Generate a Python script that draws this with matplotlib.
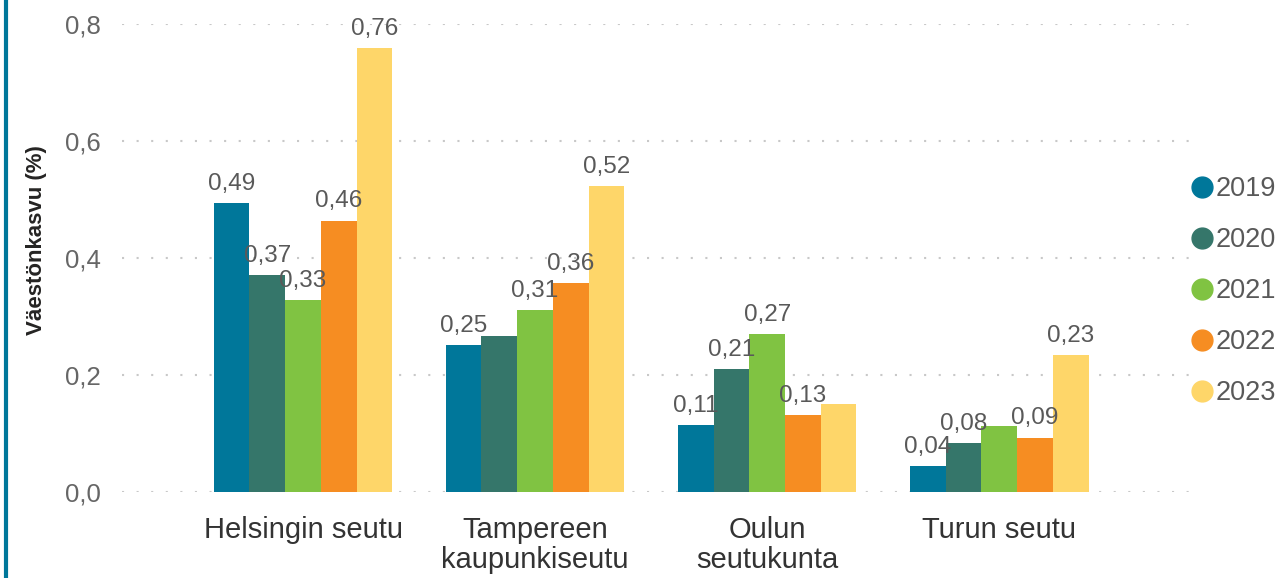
import matplotlib
matplotlib.use("Agg")
import matplotlib.pyplot as plt
from matplotlib.lines import Line2D
import numpy as np

matplotlib.rcParams.update({"font.family": ["Liberation Sans", "DejaVu Sans"]})

regions = ["Helsingin seutu", "Tampereen\nkaupunkiseutu", "Oulun\nseutukunta", "Turun seutu"]
years = ["2019", "2020", "2021", "2022", "2023"]
growth = {
    "2019": [0.494, 0.251, 0.114, 0.044],
    "2020": [0.371, 0.266, 0.210, 0.084],
    "2021": [0.328, 0.311, 0.270, 0.112],
    "2022": [0.464, 0.357, 0.131, 0.093],
    "2023": [0.759, 0.523, 0.150, 0.234],
}
# which data labels the original shows (others hidden to avoid overlap)
show_label = {
    "2019": [True, True, True, True],
    "2020": [True, False, True, True],
    "2021": [True, True, True, False],
    "2022": [True, True, True, True],
    "2023": [True, True, False, True],
}
colors = ["#00779A", "#35766A", "#80C342", "#F68D22", "#FED669"]

fig = plt.figure(figsize=(12.79, 5.78), dpi=100)
ax = fig.add_axes([0.0954, 0.1488, 0.8346, 0.8097])

x = np.arange(len(regions))
w = 0.154
for i, (yr, c) in enumerate(zip(years, colors)):
    pos = x + (i - 2) * w
    bars = ax.bar(pos, growth[yr], width=w, color=c, zorder=3, label=yr)
    for b, v, s in zip(bars, growth[yr], show_label[yr]):
        if s:
            ax.annotate(f"{v:.2f}".replace(".", ","), (b.get_x() + b.get_width() / 2, v),
                        xytext=(0, 6), textcoords="offset points", ha="center", va="bottom",
                        fontsize=17.5, color="#595959", zorder=4)

ax.set_xlim(-0.78, 3.82)
ax.set_ylim(0, 0.8)
ax.set_yticks([0, 0.2, 0.4, 0.6, 0.8])
ax.set_yticklabels(["0,0", "0,2", "0,4", "0,6", "0,8"])
ax.set_xticks(x)
ax.set_xticklabels(regions, fontsize=21, color="#333333", linespacing=1.12)
ax.tick_params(axis="y", length=0, pad=15, labelsize=18.5, labelcolor="#666666")
ax.tick_params(axis="x", length=0, pad=17)
ax.grid(axis="y", color="#C8C8C8", linestyle=(0, (1, 6)), linewidth=1.5, zorder=0)
for sp in ax.spines.values():
    sp.set_visible(False)
ax.set_ylabel("Väestönkasvu (%)", fontsize=16, color="#252423", fontweight="bold")
ax.yaxis.set_label_coords(-0.0703, 0.538)

handles = [Line2D([], [], marker="o", linestyle="", markersize=15, color=c) for c in colors]
fig.legend(handles, years, loc="center left", bbox_to_anchor=(0.921, 0.496), frameon=False,
           fontsize=19.5, labelcolor="#595959", handletextpad=0.0, labelspacing=0.92,
           handlelength=1.0, borderaxespad=0)

fig.add_artist(Line2D([0.0047, 0.0047], [0, 1], color="#00779A", linewidth=3,
                      transform=fig.transFigure))

fig.savefig("out.png", dpi=100)
